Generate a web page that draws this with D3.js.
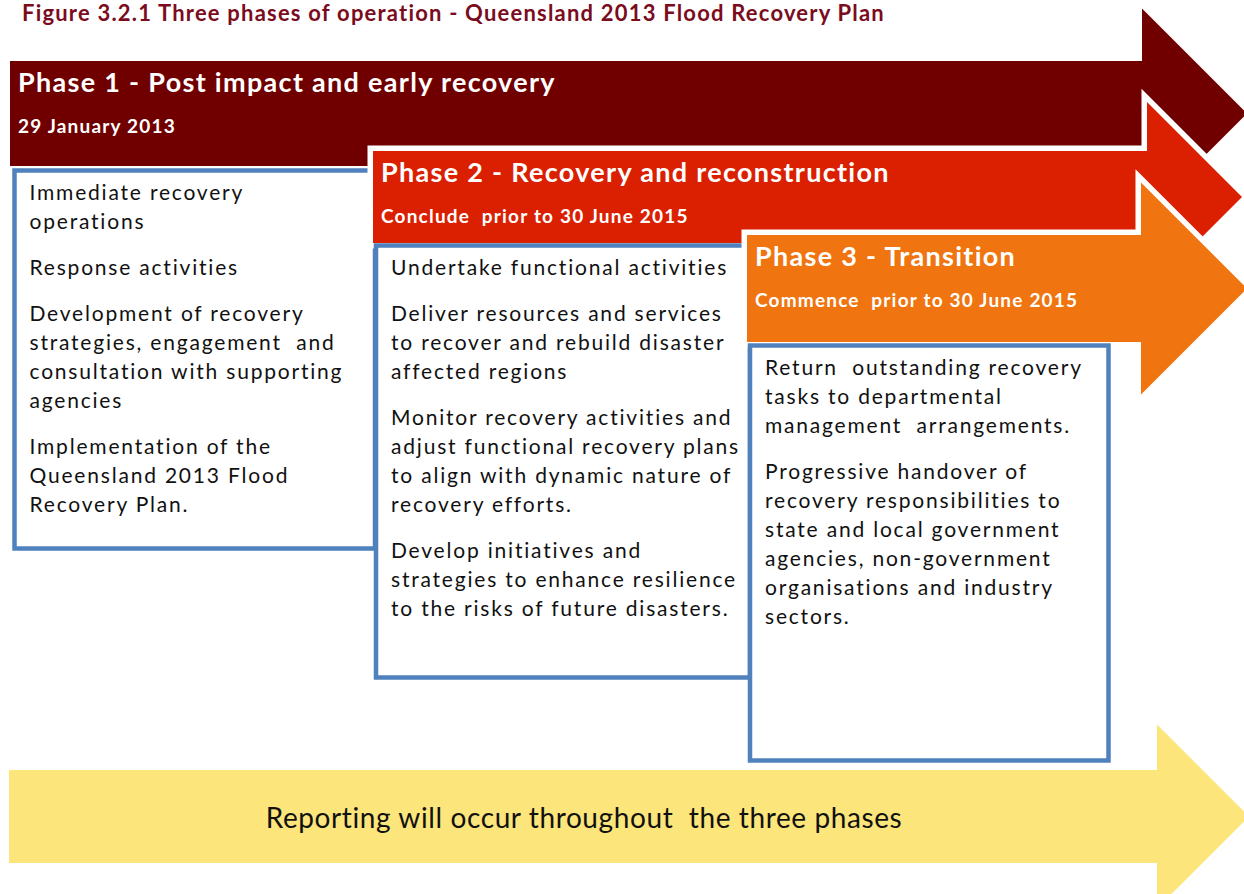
<!DOCTYPE html>
<html>
<head>
<meta charset="utf-8">
<script src="https://cdn.jsdelivr.net/npm/d3@7"></script>
<style>
  body { margin: 0; background: #fff; }
  svg { display: block; }
  text { white-space: pre; font-family: Lato, "Open Sans", sans-serif; }
</style>
</head>
<body>
<div id="chart"></div>
<script>
// ---- content ----
var figureTitle = "Figure 3.2.1 Three phases of operation - Queensland 2013 Flood Recovery Plan";

var phaseTitles = [
    "Phase 1 - Post impact and early recovery",
    "Phase 2 - Recovery and reconstruction",
    "Phase 3 - Transition"
];

var phaseDates = [
    "29 January 2013",
    "Conclude  prior to 30 June 2015",
    "Commence  prior to 30 June 2015"
];

var phaseColors = ["#700000", "#da2000", "#f0740f"];

// each phase: list of paragraphs, each paragraph a list of lines
var phaseItems = [
    [
        ["Immediate recovery", "operations"],
        ["Response activities"],
        ["Development of recovery", "strategies, engagement  and", "consultation with supporting", "agencies"],
        ["Implementation of the", "Queensland 2013 Flood", "Recovery Plan."]
    ],
    [
        ["Undertake functional activities"],
        ["Deliver resources and services", "to recover and rebuild disaster", "affected regions"],
        ["Monitor recovery activities and", "adjust functional recovery plans", "to align with dynamic nature of", "recovery efforts."],
        ["Develop initiatives and", "strategies to enhance resilience", "to the risks of future disasters."]
    ],
    [
        ["Return  outstanding recovery", "tasks to departmental", "management  arrangements."],
        ["Progressive handover of", "recovery responsibilities to", "state and local government", "agencies, non-government", "organisations and industry", "sectors."]
    ]
];

var reportingText = "Reporting will occur throughout  the three phases";
var reportingColor = "#fce57a";
var boxColor = "#4f81bd";

// ---- layout ----
var width = 1244, height = 894;

// arrow geometry per phase: left edge, body top/bottom, head base x, head half height
var arrows = [
    {x0: 10,  top: 61,  bot: 166, base: 1142, half: 105},
    {x0: 373, top: 151, bot: 243, base: 1147, half: 95},
    {x0: 747, top: 235, bot: 342, base: 1141, half: 106}
];
var boxes = [
    {x0: 14.5, x1: 375, y0: 170.5, y1: 548.5},
    {x0: 376,  x1: 750, y0: 245.5, y1: 677.5},
    {x0: 750,  x1: 1108.5, y0: 345.5, y1: 760.5}
];
var reportArrow = {x0: 9, top: 770, bot: 863, base: 1157, half: 92};

var lineStep = 29, paraGap = 17;

var svg = d3.select("#chart")
  .append("svg")
    .attr("width", width)
    .attr("height", height);

var line = d3.line();

function arrowPoints(a) {
    var mid = (a.top + a.bot) / 2;
    return [
        [a.x0, a.top], [a.base, a.top], [a.base, mid - a.half],
        [a.base + a.half, mid],
        [a.base, mid + a.half], [a.base, a.bot], [a.x0, a.bot]
    ];
}

svg.append("text")
    .attr("x", 22)
    .attr("y", 21)
    .attr("fill", "#7a0c1e")
    .style("font-weight", "bold")
    .style("font-size", "22px")
    .style("letter-spacing", "1.2px")
    .text(figureTitle);

phaseTitles.forEach(function(title, i) {
    var a = arrows[i], b = boxes[i];
    var g = svg.append("g");

    // white outline for the overlapping arrows
    if (i > 0) {
        g.append("path")
            .attr("d", line(arrowPoints(a)) + "Z")
            .attr("fill", "#fff")
            .attr("stroke", "#fff")
            .attr("stroke-width", 11)
            .attr("stroke-linejoin", "miter");
    }
    g.append("path")
        .attr("d", line(arrowPoints(a)) + "Z")
        .attr("fill", phaseColors[i]);

    g.append("text")
        .attr("x", a.x0 + 8)
        .attr("y", a.top + 31)
        .attr("fill", "#fff")
        .style("font-weight", "bold")
        .style("font-size", "27px")
        .style("letter-spacing", "1.3px")
        .text(title);

    g.append("text")
        .attr("x", a.x0 + 8)
        .attr("y", a.top + 72)
        .attr("fill", "#fff")
        .style("font-weight", "bold")
        .style("font-size", "19px")
        .style("letter-spacing", "1.2px")
        .text(phaseDates[i]);

    // text box
    g.append("rect")
        .attr("x", b.x0)
        .attr("y", b.y0)
        .attr("width", b.x1 - b.x0)
        .attr("height", b.y1 - b.y0)
        .attr("fill", "#fff")
        .attr("stroke", boxColor)
        .attr("stroke-width", 4.5);

    var y = b.y0 + 29;
    var t = g.append("text")
        .attr("fill", "#111")
        .style("font-size", "21px")
        .style("letter-spacing", "1.8px");
    phaseItems[i].forEach(function(para, p) {
        if (p > 0) y += paraGap;
        para.forEach(function(l) {
            t.append("tspan")
                .attr("x", b.x0 + 15)
                .attr("y", y)
                .text(l);
            y += lineStep;
        });
    });
});

svg.append("path")
    .attr("d", line(arrowPoints(reportArrow)) + "Z")
    .attr("fill", reportingColor);

svg.append("text")
    .attr("x", 584)
    .attr("y", 828)
    .attr("text-anchor", "middle")
    .attr("fill", "#111")
    .style("font-size", "28px")
    .style("letter-spacing", "0.6px")
    .text(reportingText);
</script>
</body>
</html>
